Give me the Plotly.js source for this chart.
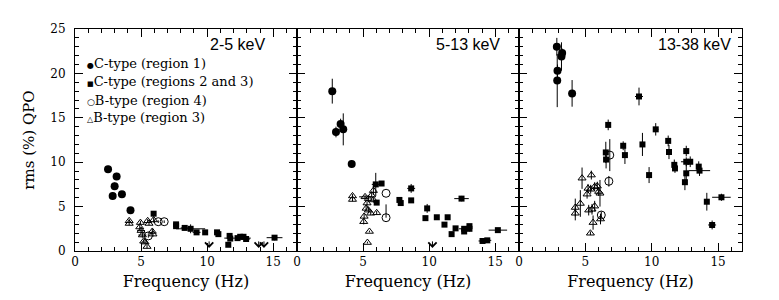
<!DOCTYPE html>
<html>
<head>
<meta charset="utf-8">
<script src="https://cdn.plot.ly/plotly-3.0.1.min.js"></script>
<style>html,body{margin:0;padding:0;background:#fff;}#chart{width:779px;height:300px;}</style>
</head>
<body>
<div id="chart"></div>
<script>
// ---------- data ----------
const panelLabels = ["2-5 keV", "5-13 keV", "13-38 keV"];
const legendLabels = ["C-type (region 1)", "C-type (regions 2 and 3)", "B-type (region 4)", "B-type (region 3)"];
const legendGlyphs = ["●", "■", "○", "△"];
const xTickVals = [0, 5, 10, 15];
const yTickVals = [0, 5, 10, 15, 20, 25];

// Panel 1: 2-5 keV
const c1_x = [2.5, 2.85, 3.0, 3.15, 3.55, 4.2];
const c1_y = [9.2, 6.2, 7.3, 8.4, 6.4, 4.6];
const c1_ey = [0.4, 0.4, 0.4, 0.4, 0.3, 0.3];
const s1_x = [5.95, 7.65, 7.65, 8.3, 8.75, 9.2, 9.85, 10.75, 10.85, 11.7, 11.75, 11.6, 12.3, 12.5, 12.75, 12.95, 15.1];
const s1_y = [4.2, 3.0, 2.8, 2.6, 2.5, 2.1, 2.1, 2.1, 1.9, 1.7, 1.4, 0.7, 1.45, 1.6, 1.6, 1.35, 1.5];
const s1_ey = [0.15, 0.15, 0.15, 0.25, 0.5, 0.2, 0.15, 0.15, 0.15, 0.2, 0.2, 0.15, 0.2, 0.2, 0.2, 0.15, 0.3];
const s1_ex = [0, 0, 0, 0.3, 1.1, 0.3, 0, 0.2, 0, 0, 0, 0, 1.0, 0, 0.3, 0.3, 0.6];
const o1_x = [6.3, 6.75, 5.55];
const o1_y = [3.3, 3.3, 1.7];
const o1_ey = [0.15, 0.15, 0.2];
const t1_x = [4.1, 4.1, 4.95, 4.9, 5.0, 5.1, 5.2, 5.45, 5.5, 5.6, 5.85, 5.9, 5.95, 5.3];
const t1_y = [3.4, 3.1, 3.2, 2.7, 2.3, 1.8, 1.1, 0.5, 3.4, 3.1, 2.2, 1.9, 3.5, 1.0];
const t1_ey = [0.2, 0.2, 0.2, 0.3, 0.3, 0.3, 0.2, 0.2, 0.2, 0.2, 0.3, 0.3, 0.3, 0.2];
const t1_ex = [0, 0, 0, 0, 0.3, 0.3, 0, 0, 0, 0, 0, 0, 0, 0];
const lim1_x = [10.15, 13.9, 14.3];
const lim1_y = [0.35, 0.35, 0.35];

// Panel 2: 5-13 keV
const c2_x = [2.67, 2.95, 3.3, 3.5, 4.14];
const c2_y = [18.0, 13.4, 14.3, 13.7, 9.8];
const c2_ey = [1.4, 0.6, 0.6, 1.8, 0.4];
const c2_ex = [0.15, 0, 0, 0, 0];
const s2_x = [5.96, 6.4, 6.03, 7.75, 7.85, 8.64, 8.64, 9.85, 9.72, 10.58, 11.4, 11.16, 11.7, 12.0, 12.45, 12.65, 12.65, 13.05, 13.05, 14.04, 14.4, 15.2];
const s2_y = [7.5, 7.6, 5.45, 5.75, 5.4, 7.05, 5.7, 4.8, 3.7, 3.8, 3.8, 2.97, 1.9, 2.55, 5.9, 2.5, 2.2, 2.8, 2.5, 1.13, 1.2, 2.35];
const s2_ey = [1.3, 0.2, 0.2, 0.2, 0.2, 0.5, 0.1, 0.5, 0.2, 0.1, 0.1, 0.1, 0.2, 0.2, 0.3, 0.2, 0.2, 0.2, 0.3, 0.1, 0.1, 0.2];
const s2_ex = [0.3, 0, 0, 0, 0, 0.3, 0, 0, 0, 0, 0, 0, 0, 0, 0.55, 0.4, 0, 0, 0, 0.3, 0.3, 0.7];
const o2_x = [6.74, 6.74];
const o2_y = [6.5, 3.75];
const o2_eyPlus = [0, 1.5];
const t2_x = [4.2, 4.2, 5.15, 5.4, 5.65, 5.78, 5.3, 5.23, 5.58, 6.03, 5.08, 5.05, 5.48, 5.33, 5.78, 5.4];
const t2_y = [6.2, 5.8, 6.1, 5.9, 6.3, 6.8, 5.4, 4.8, 4.25, 4.3, 3.9, 3.3, 2.2, 0.95, 5.75, 4.6];
const t2_ey = [0.2, 0.2, 0.2, 0.3, 0.3, 0.5, 0.3, 0.3, 0.2, 0.2, 0.3, 0.3, 0.1, 0.1, 0.3, 0.3];
const t2_ex = [0, 0, 0.45, 0, 0, 0, 0, 0, 0, 0, 0, 0, 0, 0, 0, 0];
const lim2_x = [10.25];
const lim2_y = [0.35];

// Panel 3: 13-38 keV
const c3_x = [2.85, 2.88, 2.9, 3.2, 3.25, 4.0];
const c3_y = [23.0, 19.2, 20.3, 21.9, 22.3, 17.75];
const c3_ey = [1.0, 3.0, 0.7, 1.6, 0.5, 1.5];
const s3_x = [6.72, 6.54, 6.56, 7.85, 7.98, 9.04, 9.3, 9.8, 10.3, 11.24, 11.3, 11.7, 11.75, 12.6, 12.6, 12.9, 12.6, 12.5, 13.54, 13.6, 14.15, 14.55, 15.25];
const s3_y = [14.2, 11.1, 10.3, 11.85, 10.8, 17.4, 12.0, 8.55, 13.7, 12.4, 11.15, 9.7, 9.3, 11.25, 10.05, 10.05, 8.75, 7.75, 9.5, 9.05, 5.55, 2.93, 6.05];
const s3_ey = [0.6, 1.2, 1.0, 0.5, 1.0, 1.0, 1.3, 0.9, 0.7, 0.6, 0.8, 0.6, 0.5, 0.6, 0.5, 0.6, 1.0, 0.9, 0.6, 0.6, 1.0, 0.5, 0.4];
const s3_ex = [0, 0, 0, 0, 0, 0.3, 0, 0, 0.2, 0, 0, 0, 0, 0.2, 0.4, 0.2, 0, 0, 0, 0.8, 0, 0.3, 0.7];
const o3_x = [6.84, 6.77, 6.2];
const o3_y = [10.8, 7.85, 4.05];
const o3_ey = [1.8, 0.6, 0.4];
const t3_x = [4.75, 5.45, 5.2, 5.4, 5.7, 5.9, 6.0, 5.13, 4.62, 4.24, 4.24, 5.25, 5.5, 5.7, 5.58, 5.38, 6.14, 6.1];
const t3_y = [8.2, 8.55, 7.05, 6.95, 7.25, 7.3, 6.7, 6.4, 5.35, 4.9, 4.25, 4.6, 4.7, 5.05, 3.2, 2.0, 3.6, 6.5];
const t3_ey = [1.2, 0.5, 0.5, 0.5, 0.5, 0.5, 0.5, 0.5, 1.5, 1.0, 0.8, 0.6, 0.6, 0.6, 0.8, 0.2, 0.6, 1.5];

// ---------- build ----------
const SERIF = '"DejaVu Serif", serif';
const SANS = '"Liberation Sans", Arial, sans-serif';

const styles = {
  c: {symbol: 'circle', size: 8, color: '#000'},
  s: {symbol: 'square', size: 6, color: '#000'},
  o: {symbol: 'circle-open', size: 8, color: '#000', line: {width: 1, color: '#000'}},
  t: {symbol: 'triangle-up-open', size: 7, color: '#000', line: {width: 1, color: '#000'}}
};

function tr(p, kind, x, y, ey, ex, eyMinus) {
  const t = {
    type: 'scatter', mode: 'markers', x: x, y: y,
    xaxis: p === 1 ? 'x' : 'x' + p, yaxis: p === 1 ? 'y' : 'y' + p,
    marker: styles[kind], showlegend: false, hoverinfo: 'x+y'
  };
  if (ey) {
    t.error_y = {type: 'data', array: ey, visible: true, thickness: 1, width: 0, color: '#000'};
    if (eyMinus) { t.error_y.symmetric = false; t.error_y.arrayminus = eyMinus; }
  }
  if (ex) t.error_x = {type: 'data', array: ex, visible: true, thickness: 1, width: 0, color: '#000'};
  return t;
}

const data = [
  tr(1, 'c', c1_x, c1_y, c1_ey),
  tr(1, 's', s1_x, s1_y, s1_ey, s1_ex),
  tr(1, 'o', o1_x, o1_y, o1_ey),
  tr(1, 't', t1_x, t1_y, t1_ey, t1_ex),
  tr(2, 'c', c2_x, c2_y, c2_ey, c2_ex),
  tr(2, 's', s2_x, s2_y, s2_ey, s2_ex),
  tr(2, 'o', o2_x, o2_y, o2_eyPlus, null, o2_x.map(() => 0)),
  tr(2, 't', t2_x, t2_y, t2_ey, t2_ex),
  tr(3, 'c', c3_x, c3_y, c3_ey),
  tr(3, 's', s3_x, s3_y, s3_ey, s3_ex),
  tr(3, 'o', o3_x, o3_y, o3_ey),
  tr(3, 't', t3_x, t3_y, t3_ey)
];

const W = 779, H = 300;
const pxL = [75, 297, 519], pxR = [297, 519, 742];
const yDom = [(H - 251) / H, (H - 29) / H];

function xax(i) {
  return {
    domain: [pxL[i] / W, pxR[i] / W], range: [0, 16.8], anchor: i === 0 ? 'y' : 'y' + (i + 1),
    showline: true, linecolor: '#000', linewidth: 1, mirror: 'ticks',
    ticks: 'inside', ticklen: 8, tickwidth: 1, tickcolor: '#000',
    tickvals: xTickVals, ticktext: xTickVals.map(String),
    minor: {dtick: 1, ticks: 'inside', ticklen: 4, tickwidth: 1, tickcolor: '#000', showgrid: false},
    showgrid: false, zeroline: false,
    tickfont: {family: SERIF, size: 12, color: '#000'},
    title: {text: 'Frequency (Hz)', font: {family: SERIF, size: 16, color: '#000'}, standoff: 7}
  };
}
function yax(i) {
  return {
    domain: yDom, range: [0, 25], anchor: i === 0 ? 'x' : 'x' + (i + 1),
    showline: true, linecolor: '#000', linewidth: 1, mirror: 'ticks',
    ticks: 'inside', ticklen: 8, tickwidth: 1, tickcolor: '#000',
    tickvals: yTickVals, ticktext: yTickVals.map(String), showticklabels: i === 0,
    minor: {dtick: 1, ticks: 'inside', ticklen: 4, tickwidth: 1, tickcolor: '#000', showgrid: false},
    showgrid: false, zeroline: false,
    tickfont: {family: SERIF, size: 12, color: '#000'},
    ticklabelstandoff: 6,
    title: i === 0 ? {text: 'rms (%) QPO', font: {family: SERIF, size: 15, color: '#000'}, standoff: 12} : {text: ''}
  };
}

const annotations = [];
// panel labels
const labelX = [14.5, 15.5, 16.1];
panelLabels.forEach((t, i) => {
  annotations.push({
    xref: i === 0 ? 'x' : 'x' + (i + 1), yref: i === 0 ? 'y' : 'y' + (i + 1),
    x: labelX[i], y: 23.2, xanchor: 'right', yanchor: 'middle', showarrow: false,
    text: t, font: {family: SANS, size: 16, color: '#000'}
  });
});
// legend (inside panel 1)
const legY = [21.1, 19.05, 17.0, 15.0];
const glyphSize = [8, 7, 9, 8];
legendLabels.forEach((t, i) => {
  annotations.push({
    xref: 'x', yref: 'y', x: 0.75, y: legY[i], xanchor: 'left', yanchor: 'middle', showarrow: false,
    text: '<span style="font-size:' + glyphSize[i] + 'px">' + legendGlyphs[i] + '</span>' + t,
    font: {family: SERIF, size: 13, color: '#000'}
  });
});
// upper-limit arrows
[[lim1_x, lim1_y, 1], [lim2_x, lim2_y, 2]].forEach(([xs, ys, p]) => {
  xs.forEach((xv, k) => {
    annotations.push({
      xref: p === 1 ? 'x' : 'x' + p, yref: p === 1 ? 'y' : 'y' + p,
      x: xv, y: ys[k], ax: 0, ay: -8, showarrow: true,
      arrowhead: 4, arrowsize: 1.6, arrowwidth: 1, arrowcolor: '#000', text: ''
    });
  });
});

const layout = {
  width: W, height: H, margin: {l: 0, r: 0, t: 0, b: 0},
  paper_bgcolor: '#fff', plot_bgcolor: '#fff', showlegend: false,
  xaxis: xax(0), xaxis2: xax(1), xaxis3: xax(2),
  yaxis: yax(0), yaxis2: yax(1), yaxis3: yax(2),
  annotations: annotations
};

Plotly.newPlot('chart', data, layout, {displayModeBar: false, staticPlot: true});
</script>
</body>
</html>
